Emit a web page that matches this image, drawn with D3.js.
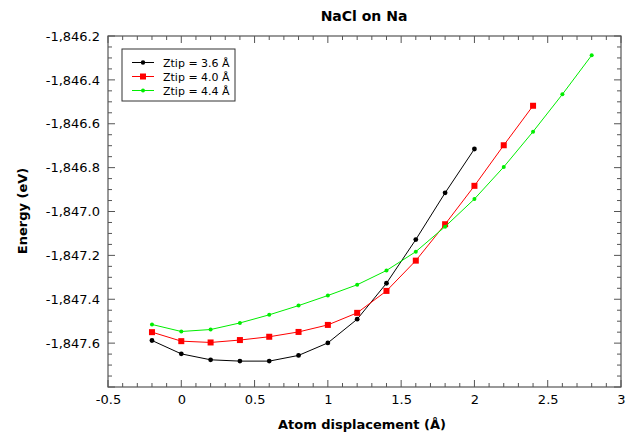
<!DOCTYPE html>
<html><head><meta charset="utf-8">
<script src="https://cdn.jsdelivr.net/npm/d3@7"></script>
<style>body{margin:0;background:#fff;} text{font-family:"DejaVu Sans",sans-serif;}</style>
</head><body><svg id="c" width="632" height="434"></svg>
<script>
const xTicks = [-0.5, 0, 0.5, 1, 1.5, 2, 2.5, 3];
const yTicks = [-1847.6, -1847.4, -1847.2, -1847.0, -1846.8, -1846.6, -1846.4, -1846.2];
const x36 = [-0.2,0,0.2,0.4,0.6,0.8,1.0,1.2,1.4,1.6,1.8,2.0];
const y36 = [-1847.588,-1847.649,-1847.676,-1847.682,-1847.682,-1847.656,-1847.599,-1847.491,-1847.327,-1847.128,-1846.915,-1846.715];
const x40 = [-0.2,0,0.2,0.4,0.6,0.8,1.0,1.2,1.4,1.6,1.8,2.0,2.2,2.4];
const y40 = [-1847.550,-1847.591,-1847.597,-1847.586,-1847.571,-1847.549,-1847.517,-1847.462,-1847.362,-1847.224,-1847.058,-1846.883,-1846.698,-1846.518];
const x44 = [-0.2,0,0.2,0.4,0.6,0.8,1.0,1.2,1.4,1.6,1.8,2.0,2.2,2.4,2.6,2.8];
const y44 = [-1847.515,-1847.547,-1847.538,-1847.508,-1847.471,-1847.429,-1847.383,-1847.334,-1847.269,-1847.183,-1847.069,-1846.943,-1846.797,-1846.636,-1846.466,-1846.288];
const seriesNames = ["Ztip = 3.6 Å", "Ztip = 4.0 Å", "Ztip = 4.4 Å"];
const colors = ["#000000", "#ff0000", "#00ee00"];
const markers = ["circle", "square", "small"];

const svg = d3.select("#c");
const L=108, R=621, T=36, B=387;
const x = d3.scaleLinear().domain([-0.5,3]).range([L,R]);
const y = d3.scaleLinear().domain([-1847.8,-1846.2]).range([B,T]);
const fmtY = v => d3.format(",.1f")(v).replace("−","-");
const fmtX = v => d3.format("")(v).replace("−","-");

const frame = "#555";
// minor ticks
const g = svg.append("g");
const xMinor = d3.range(-5,31).map(i=>i/10);
const yMinor = d3.range(0,33).map(i=>-1847.8+i*0.05);
xMinor.forEach(v=>{
  const major = Math.abs(v*2-Math.round(v*2))<1e-6;
  const len = major?7:4;
  g.append("line").attr("x1",x(v)).attr("x2",x(v)).attr("y1",B).attr("y2",B-len).attr("stroke",frame);
  g.append("line").attr("x1",x(v)).attr("x2",x(v)).attr("y1",T).attr("y2",T+len).attr("stroke",frame);
});
yMinor.forEach(v=>{
  const major = Math.abs(v*5-Math.round(v*5))<1e-6;
  const len = major?7:4;
  g.append("line").attr("y1",y(v)).attr("y2",y(v)).attr("x1",L).attr("x2",L+len).attr("stroke",frame);
  g.append("line").attr("y1",y(v)).attr("y2",y(v)).attr("x1",R).attr("x2",R-len).attr("stroke",frame);
});
svg.append("rect").attr("x",L).attr("y",T).attr("width",R-L).attr("height",B-T).attr("fill","none").attr("stroke",frame).attr("stroke-width",1.2);

// axis labels via axes
const xa = svg.append("g").attr("transform",`translate(0,${B})`).call(d3.axisBottom(x).tickValues(xTicks).tickFormat(fmtX).tickSize(0).tickPadding(8));
const ya = svg.append("g").attr("transform",`translate(${L},0)`).call(d3.axisLeft(y).tickValues(yTicks).tickFormat(fmtY).tickSize(0).tickPadding(8));
[xa,ya].forEach(a=>{a.select(".domain").remove(); a.selectAll("text").attr("font-size",13).attr("fill","#000").attr("font-family","DejaVu Sans");});

// series
const data = [[x36,y36],[x40,y40],[x44,y44]];
data.forEach(([xs,ys],i)=>{
  const pts = xs.map((v,j)=>[v,ys[j]]);
  svg.append("path").datum(pts).attr("fill","none").attr("stroke",colors[i]).attr("stroke-width",1)
    .attr("d", d3.line().x(d=>x(d[0])).y(d=>y(d[1])));
  const m = svg.append("g");
  pts.forEach(d=>{
    if(markers[i]==="square") m.append("rect").attr("x",x(d[0])-3).attr("y",y(d[1])-3).attr("width",6).attr("height",6).attr("fill",colors[i]);
    else m.append("circle").attr("cx",x(d[0])).attr("cy",y(d[1])).attr("r",markers[i]==="circle"?2.4:2).attr("fill",colors[i]);
  });
});

// legend
const lg = svg.append("g");
lg.append("rect").attr("x",122).attr("y",49).attr("width",113).attr("height",52).attr("fill","#fff").attr("stroke","#333").attr("stroke-width",1);
seriesNames.forEach((n,i)=>{
  const yy = 62.5 + i*14;
  lg.append("line").attr("x1",132).attr("x2",154).attr("y1",yy).attr("y2",yy).attr("stroke",colors[i]);
  if(markers[i]==="square") lg.append("rect").attr("x",140).attr("y",yy-3).attr("width",6).attr("height",6).attr("fill",colors[i]);
  else lg.append("circle").attr("cx",143).attr("cy",yy).attr("r",markers[i]==="circle"?2.2:2).attr("fill",colors[i]);
  lg.append("text").attr("x",163).attr("y",yy+4).attr("font-size",11).text(n);
});

svg.append("text").attr("x",364).attr("y",21).attr("text-anchor","middle").attr("font-size",14).attr("font-weight","bold").text("NaCl on Na");
svg.append("text").attr("x",362).attr("y",429).attr("text-anchor","middle").attr("font-size",13).attr("font-weight","bold").text("Atom displacement (Å)");
svg.append("text").attr("transform","translate(27,211) rotate(-90)").attr("text-anchor","middle").attr("font-size",13).attr("font-weight","bold").text("Energy (eV)");
</script></body></html>
